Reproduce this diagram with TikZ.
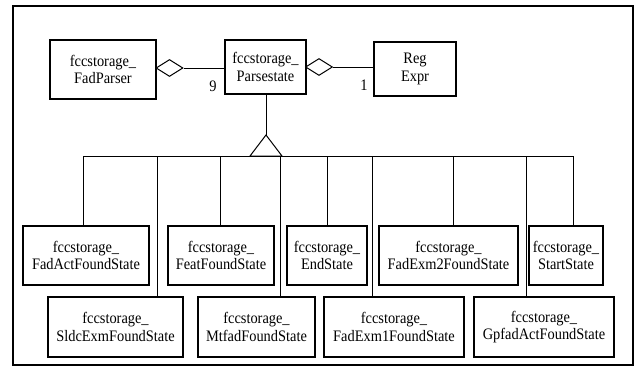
\documentclass[tikz,border=0pt]{standalone}
\usepackage{fontspec}
\setmainfont{Liberation Serif}[FakeStretch=0.9]
\usetikzlibrary{shapes.geometric}
\begin{document}
\begin{tikzpicture}[x=1pt,y=-1pt,
  cls/.style={draw, line width=1.2pt, align=center, inner sep=0pt,
    font=\fontsize{16}{17.5}\selectfont},
  conn/.style={line width=1pt},
  agg/.style={draw, diamond, line width=1pt, inner sep=0pt, minimum width=27pt, minimum height=17pt, fill=white},
  mult/.style={font=\fontsize{16}{17.5}\selectfont, inner sep=0pt}
]
\useasboundingbox (0,0) rectangle (636,367);
\draw[line width=2.4pt] (13,6) rectangle (633,365);

% top classes
\node[cls, minimum width=106pt, minimum height=59pt] (fp) at (103,69.5) {fccstorage\_\\FadParser};
\node[cls, minimum width=81pt, minimum height=54pt] (ps) at (265.5,67) {fccstorage\_\\Parsestate};
\node[cls, minimum width=82pt, minimum height=54pt] (re) at (415,69) {Reg\\Expr};

% aggregation diamonds
\node[agg] (d1) at (169.5,68) {};
\node[agg] (d2) at (319,67) {};
\draw[conn] (d1.east) -- (d1.east -| ps.west);
\draw[conn] (d2.east) -- (d2.east -| re.west);
\node[mult] (m9) at (213,86) {9};
\node[mult] (m1) at (364,85) {1};

% generalization
\coordinate (apex) at (266,135);
\coordinate (tl) at (250,156);
\coordinate (tr) at (282,156);
\draw[conn] (ps.south -| apex) -- (apex);
\draw[conn, line join=miter] (tl) -- (apex) -- (tr) -- cycle;
\coordinate (bl) at (83,156);
\coordinate (br) at (573,156);
\draw[conn] (bl) -- (br);

% children row 1
\node[cls, minimum width=126pt, minimum height=59pt] (c1) at (86,255.5) {fccstorage\_\\FadActFoundState};
\node[cls, minimum width=106pt, minimum height=59pt] (c2) at (221,255.5) {fccstorage\_\\FeatFoundState};
\node[cls, minimum width=80pt, minimum height=59pt] (c3) at (327,255.5) {fccstorage\_\\EndState};
\node[cls, minimum width=139pt, minimum height=59pt] (c4) at (448.5,255.5) {fccstorage\_\\FadExm2FoundState};
\node[cls, minimum width=74pt, minimum height=59pt] (c5) at (566,255.5) {fccstorage\_\\StartState};
% children row 2
\node[cls, minimum width=135pt, minimum height=60pt] (e1) at (115.5,327) {fccstorage\_\\SldcExmFoundState};
\node[cls, minimum width=117pt, minimum height=60pt] (e2) at (256.5,327) {fccstorage\_\\MtfadFoundState};
\node[cls, minimum width=140pt, minimum height=60pt] (e3) at (394,327) {fccstorage\_\\FadExm1FoundState};
\node[cls, minimum width=140pt, minimum height=60pt] (e4) at (544,327) {fccstorage\_\\GpfadActFoundState};

% drops from bus
\coordinate (v1) at (83,156);
\coordinate (v2) at (157,156);
\coordinate (v3) at (220,156);
\coordinate (v4) at (280,156);
\coordinate (v5) at (327,156);
\coordinate (v6) at (372,156);
\coordinate (v7) at (453,156);
\coordinate (v8) at (526,156);
\coordinate (v9) at (573,156);
\draw[conn] (v1) -- (v1 |- c1.north);
\draw[conn] (v2) -- (v2 |- e1.north);
\draw[conn] (v3) -- (v3 |- c2.north);
\draw[conn] (v4) -- (v4 |- e2.north);
\draw[conn] (v5) -- (v5 |- c3.north);
\draw[conn] (v6) -- (v6 |- e3.north);
\draw[conn] (v7) -- (v7 |- c4.north);
\draw[conn] (v8) -- (v8 |- e4.north);
\draw[conn] (v9) -- (v9 |- c5.north);
\end{tikzpicture}
\end{document}
